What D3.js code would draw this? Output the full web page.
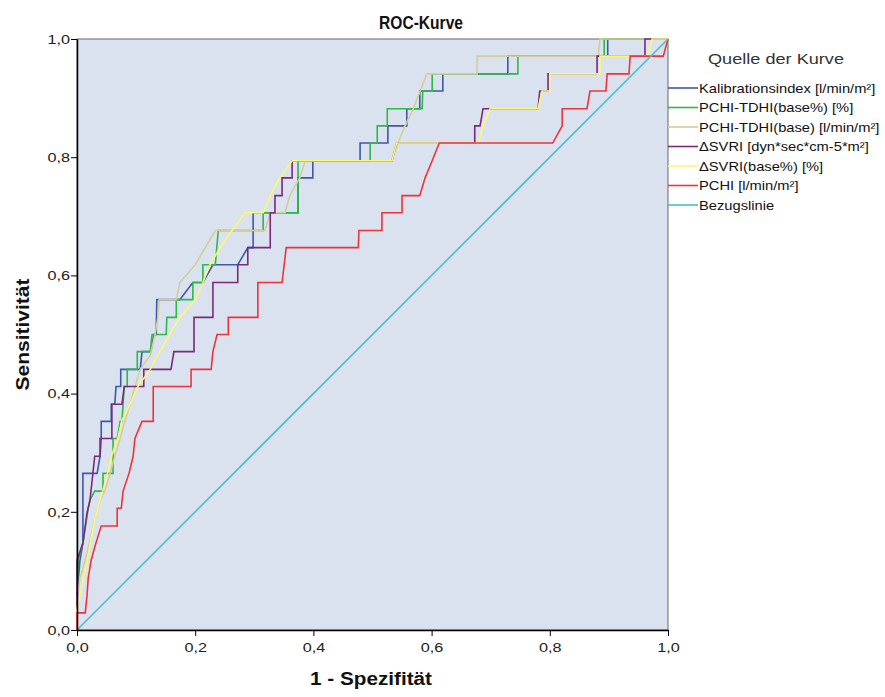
<!DOCTYPE html>
<html>
<head>
<meta charset="utf-8">
<script src="https://cdn.jsdelivr.net/npm/d3@7"></script>
<style>
  body { margin: 0; background: #fff; }
  svg { font-family: Arial, "Liberation Sans", sans-serif; }
</style>
</head>
<body>
<svg id="chart" width="885" height="697"></svg>
<script>
// ROC-Kurve: Punkte [1 - Spezifität, Sensitivität]
var seriesNames = ["Kalibrationsindex [l/min/m²]", "PCHI-TDHI(base%) [%]", "PCHI-TDHI(base) [l/min/m²]",
  "ΔSVRI [dyn*sec*cm-5*m²]", "ΔSVRI(base%) [%]", "PCHI [l/min/m²]", "Bezugslinie"];
var seriesColors = ["#3e58ac", "#2eb848", "#d3ce97", "#7c287d", "#fbf873", "#ef3338", "#48c2c5"];

var kalibration = [[0,0],[0,0.059],[0.005,0.118],[0.01,0.147],[0.01,0.265],[0.034,0.265],[0.039,0.294],[0.041,0.324],[0.041,0.353],[0.058,0.353],[0.058,0.382],[0.064,0.382],[0.066,0.412],[0.074,0.412],[0.074,0.441],[0.107,0.441],[0.11,0.471],[0.125,0.471],[0.13,0.5],[0.134,0.5],[0.135,0.559],[0.174,0.559],[0.196,0.588],[0.213,0.588],[0.23,0.618],[0.272,0.618],[0.289,0.647],[0.298,0.647],[0.298,0.706],[0.374,0.706],[0.374,0.765],[0.399,0.765],[0.399,0.794],[0.479,0.794],[0.479,0.824],[0.526,0.824],[0.526,0.853],[0.558,0.853],[0.558,0.882],[0.58,0.882],[0.58,0.912],[0.619,0.912],[0.619,0.941],[0.729,0.941],[0.729,0.971],[0.898,0.971],[0.898,1],[1,1]];
var tdhiBasePct = [[0,0],[0,0.029],[0.002,0.118],[0.01,0.147],[0.019,0.206],[0.022,0.22],[0.03,0.235],[0.044,0.235],[0.044,0.265],[0.061,0.265],[0.061,0.324],[0.068,0.324],[0.073,0.353],[0.076,0.353],[0.08,0.412],[0.085,0.412],[0.085,0.441],[0.102,0.441],[0.102,0.471],[0.124,0.471],[0.127,0.5],[0.151,0.5],[0.152,0.529],[0.168,0.529],[0.168,0.559],[0.196,0.559],[0.196,0.588],[0.213,0.588],[0.213,0.618],[0.234,0.618],[0.239,0.676],[0.315,0.676],[0.315,0.706],[0.374,0.706],[0.374,0.794],[0.496,0.794],[0.496,0.824],[0.508,0.824],[0.508,0.853],[0.525,0.853],[0.525,0.882],[0.584,0.882],[0.585,0.912],[0.601,0.912],[0.601,0.941],[0.746,0.941],[0.746,0.971],[0.892,0.971],[0.892,1],[1,1]];
var tdhiBase = [[0,0],[0,0.051],[0.005,0.088],[0.014,0.118],[0.022,0.152],[0.03,0.186],[0.039,0.22],[0.047,0.235],[0.056,0.265],[0.064,0.294],[0.073,0.324],[0.081,0.353],[0.09,0.382],[0.098,0.412],[0.107,0.441],[0.124,0.465],[0.132,0.5],[0.137,0.529],[0.139,0.559],[0.168,0.559],[0.174,0.588],[0.2,0.618],[0.217,0.647],[0.234,0.676],[0.318,0.676],[0.327,0.706],[0.352,0.706],[0.36,0.735],[0.377,0.765],[0.386,0.794],[0.533,0.794],[0.543,0.824],[0.555,0.853],[0.569,0.882],[0.592,0.941],[0.677,0.941],[0.677,0.971],[0.882,0.971],[0.885,1],[1,1]];
var dsvri = [[0,0],[0,0.118],[0.01,0.147],[0.017,0.198],[0.022,0.22],[0.03,0.294],[0.039,0.294],[0.039,0.324],[0.059,0.324],[0.059,0.382],[0.076,0.382],[0.08,0.412],[0.113,0.412],[0.113,0.441],[0.159,0.441],[0.164,0.471],[0.198,0.471],[0.198,0.529],[0.23,0.529],[0.23,0.588],[0.272,0.588],[0.272,0.618],[0.289,0.618],[0.289,0.647],[0.327,0.647],[0.327,0.706],[0.335,0.706],[0.335,0.735],[0.347,0.735],[0.347,0.765],[0.364,0.765],[0.364,0.794],[0.533,0.794],[0.541,0.824],[0.673,0.824],[0.673,0.853],[0.682,0.853],[0.687,0.882],[0.78,0.882],[0.783,0.912],[0.797,0.912],[0.797,0.941],[0.88,0.941],[0.88,0.971],[0.961,0.971],[0.961,1],[1,1]];
var dsvriBasePct = [[0,0],[0,0.034],[0.005,0.059],[0.014,0.102],[0.022,0.144],[0.03,0.186],[0.039,0.22],[0.049,0.254],[0.059,0.296],[0.069,0.324],[0.076,0.355],[0.09,0.382],[0.103,0.412],[0.124,0.441],[0.14,0.471],[0.157,0.5],[0.174,0.529],[0.2,0.559],[0.213,0.588],[0.225,0.618],[0.242,0.647],[0.262,0.676],[0.284,0.706],[0.315,0.706],[0.327,0.735],[0.343,0.765],[0.364,0.794],[0.533,0.794],[0.541,0.824],[0.679,0.824],[0.687,0.853],[0.699,0.882],[0.78,0.882],[0.787,0.912],[0.8,0.912],[0.8,0.941],[0.885,0.941],[0.885,0.971],[0.966,0.971],[0.973,1],[1,1]];
var pchi = [[0,0],[0,0.029],[0.014,0.029],[0.017,0.059],[0.019,0.088],[0.024,0.118],[0.032,0.147],[0.041,0.176],[0.068,0.176],[0.068,0.206],[0.075,0.206],[0.078,0.235],[0.088,0.265],[0.095,0.294],[0.098,0.324],[0.11,0.353],[0.129,0.353],[0.129,0.412],[0.193,0.412],[0.193,0.441],[0.227,0.441],[0.23,0.471],[0.237,0.5],[0.256,0.5],[0.256,0.529],[0.306,0.529],[0.306,0.588],[0.347,0.588],[0.354,0.647],[0.476,0.647],[0.477,0.676],[0.516,0.676],[0.516,0.706],[0.55,0.706],[0.55,0.735],[0.58,0.735],[0.589,0.765],[0.601,0.794],[0.613,0.824],[0.805,0.824],[0.821,0.853],[0.821,0.882],[0.863,0.882],[0.868,0.912],[0.895,0.912],[0.897,0.941],[0.934,0.941],[0.936,0.971],[0.992,0.971],[1,1]];
var bezug = [[0,0],[1,1]];

var allSeries = [kalibration, tdhiBasePct, tdhiBase, dsvri, dsvriBasePct, pchi, bezug];
var tickValues = [0, 0.2, 0.4, 0.6, 0.8, 1.0];

var svg = d3.select("#chart");
var plotLeft = 77, plotRight = 668, plotTop = 39, plotBottom = 630;

var x = d3.scaleLinear().domain([0, 1]).range([plotLeft, plotRight]);
var y = d3.scaleLinear().domain([0, 1]).range([plotBottom, plotTop]);
var fmt = function(d) { return d3.format(".1f")(d).replace(".", ","); };

// Text etwas breiter ziehen, wie im SPSS-Bild
function widen(sel, factor) {
  sel.each(function() {
    var w = this.getComputedTextLength();
    d3.select(this).attr("textLength", w * factor).attr("lengthAdjust", "spacingAndGlyphs");
  });
}

// Hintergrund der Zeichenfläche
svg.append("rect")
  .attr("x", plotLeft).attr("y", plotTop)
  .attr("width", plotRight - plotLeft).attr("height", plotBottom - plotTop)
  .attr("fill", "#dae2f0")
  .attr("stroke", "#666")
  .attr("stroke-width", 1);

var line = d3.line()
  .x(function(d) { return x(d[0]); })
  .y(function(d) { return y(d[1]); });

svg.append("g")
  .selectAll("path")
  .data(allSeries)
  .enter()
  .append("path")
  .attr("d", line)
  .attr("fill", "none")
  .attr("stroke", function(d, i) { return seriesColors[i]; })
  .attr("stroke-width", 1.6);

// Achsen
var xAxis = svg.append("g")
  .attr("transform", "translate(0," + plotBottom + ")")
  .call(d3.axisBottom(x).tickValues(tickValues).tickFormat(fmt).tickSize(6).tickSizeOuter(0));
var yAxis = svg.append("g")
  .attr("transform", "translate(" + plotLeft + ",0)")
  .call(d3.axisLeft(y).tickValues(tickValues).tickFormat(fmt).tickSize(6).tickSizeOuter(0));

[xAxis, yAxis].forEach(function(a) {
  a.select(".domain").attr("stroke", "#000").attr("stroke-width", 1.5);
  a.selectAll(".tick line").attr("stroke", "#000");
  a.selectAll("text")
    .attr("font-family", "Arial, 'Liberation Sans', sans-serif")
    .attr("font-size", 13.5)
    .attr("fill", "#222");
  widen(a.selectAll("text"), 1.2);
});
xAxis.selectAll("text").attr("dy", "0.95em");
yAxis.selectAll("text").attr("x", -7);

// Titel und Achsenbeschriftungen
svg.append("text")
  .attr("x", 421).attr("y", 29)
  .attr("text-anchor", "middle")
  .attr("font-size", 18).attr("font-weight", "bold")
  .attr("fill", "#111")
  .attr("textLength", 84).attr("lengthAdjust", "spacingAndGlyphs")
  .text("ROC-Kurve");

svg.append("text")
  .attr("x", 371).attr("y", 685)
  .attr("text-anchor", "middle")
  .attr("font-size", 18).attr("font-weight", "bold")
  .attr("fill", "#111")
  .attr("textLength", 122).attr("lengthAdjust", "spacingAndGlyphs")
  .text("1 - Spezifität");

svg.append("text")
  .attr("transform", "translate(29," + ((plotTop + plotBottom) / 2) + ") rotate(-90)")
  .attr("text-anchor", "middle")
  .attr("font-size", 18).attr("font-weight", "bold")
  .attr("fill", "#111")
  .attr("textLength", 112).attr("lengthAdjust", "spacingAndGlyphs")
  .text("Sensitivität");

// Legende
svg.append("text")
  .attr("x", 708).attr("y", 64)
  .attr("font-size", 15)
  .attr("fill", "#333")
  .attr("textLength", 136).attr("lengthAdjust", "spacingAndGlyphs")
  .text("Quelle der Kurve");

var legend = svg.append("g")
  .selectAll("g")
  .data(seriesNames)
  .enter()
  .append("g")
  .attr("transform", function(d, i) { return "translate(668," + (88 + i * 19.5) + ")"; });

legend.append("line")
  .attr("x1", 0).attr("x2", 30)
  .attr("stroke", function(d, i) { return seriesColors[i]; })
  .attr("stroke-width", 1.6);

var legendText = legend.append("text")
  .attr("x", 31).attr("dy", "0.35em")
  .attr("font-size", 13)
  .attr("fill", "#111")
  .text(function(d) { return d; });
widen(legendText, 1.13);
</script>
</body>
</html>
